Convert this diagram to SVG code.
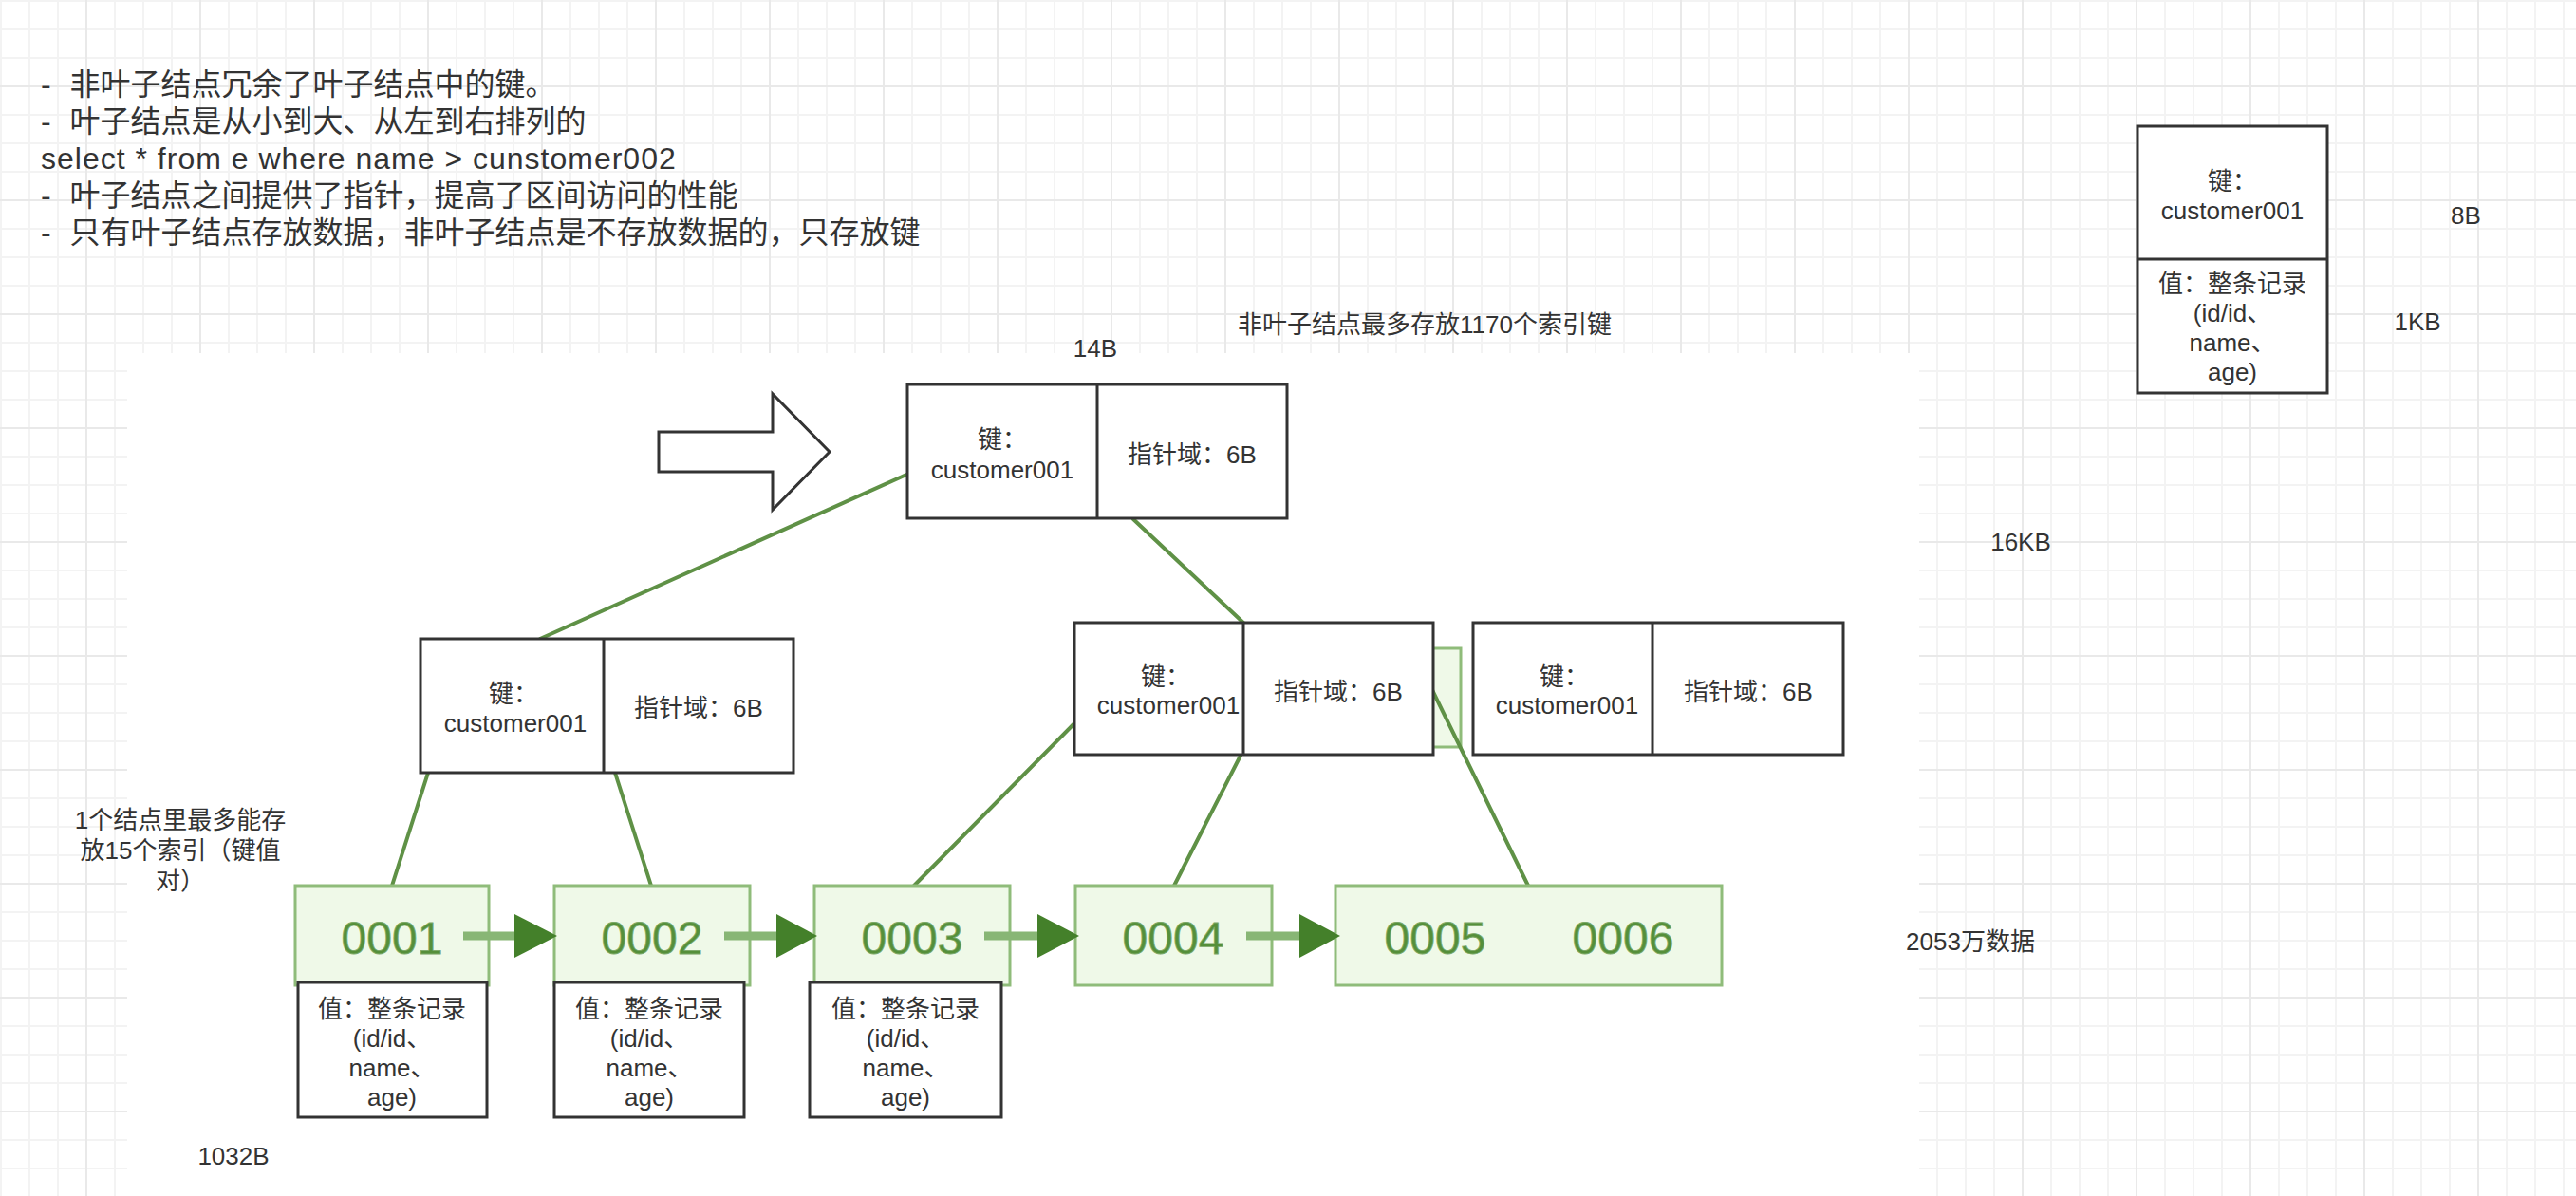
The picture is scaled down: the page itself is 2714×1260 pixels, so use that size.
<svg xmlns="http://www.w3.org/2000/svg" width="2714" height="1260" viewBox="0 0 2714 1260">
<style>
.t{font-family:"Liberation Sans","Noto Sans CJK SC",sans-serif;fill:#333;font-size:26px}
.c{text-anchor:middle}
.big{font-size:32px}
.box{fill:#fff;stroke:#333;stroke-width:3}
.leaf{fill:#eff9e8;stroke:#8fbc7a;stroke-width:3}
.lt{font-family:"Liberation Sans",sans-serif;font-size:48px;fill:#558f3a;stroke:#7aa866;stroke-width:0.8;text-anchor:middle}
.edge{stroke:#5f9146;stroke-width:4;fill:none;stroke-linecap:round}
.shaft{stroke:#88b675;stroke-width:9}
.head{fill:#44802a}
</style>
<defs>
<pattern id="grid" x="90" y="90" width="120" height="120" patternUnits="userSpaceOnUse">
<rect width="120" height="120" fill="#fff"/>
<rect x="30" y="0" width="2" height="120" fill="#f3f3f3"/>
<rect x="60" y="0" width="2" height="120" fill="#f3f3f3"/>
<rect x="90" y="0" width="2" height="120" fill="#f3f3f3"/>
<rect x="0" y="30" width="120" height="2" fill="#f3f3f3"/>
<rect x="0" y="60" width="120" height="2" fill="#f3f3f3"/>
<rect x="0" y="90" width="120" height="2" fill="#f3f3f3"/>
<rect x="0" y="0" width="2" height="120" fill="#e9e9e9"/>
<rect x="0" y="0" width="120" height="2" fill="#e9e9e9"/>
</pattern>
</defs>
<rect width="2714" height="1260" fill="url(#grid)"/>
<rect x="134" y="372" width="1888" height="888" fill="#fff"/>

<g id="notes">
<text class="t big" x="43" y="100" word-spacing="11">- 非叶子结点冗余了叶子结点中的键。</text>
<text class="t big" x="43" y="139" word-spacing="11">- 叶子结点是从小到大、从左到右排列的</text>
<text class="t big" x="43" y="178" letter-spacing="1">select * from e where name &gt; cunstomer002</text>
<text class="t big" x="43" y="217" word-spacing="11">- 叶子结点之间提供了指针，提高了区间访问的性能</text>
<text class="t big" x="43" y="256" word-spacing="11">- 只有叶子结点存放数据，非叶子结点是不存放数据的，只存放键</text>
</g>

<g id="record-node">
<rect class="box" x="2252" y="133" width="200" height="281"/>
<line x1="2252" y1="273" x2="2452" y2="273" stroke="#333" stroke-width="3"/>
<text class="t c" x="2352" y="200">键：</text>
<text class="t c" x="2352" y="231">customer001</text>
<text class="t c" x="2352" y="308">值：整条记录</text>
<text class="t c" x="2352" y="339">(id/id、</text>
<text class="t c" x="2352" y="370">name、</text>
<text class="t c" x="2352" y="401">age)</text>
</g>
<g id="label-8B"><text class="t c" x="2598" y="236">8B</text></g>
<g id="label-1KB"><text class="t c" x="2547" y="348">1KB</text></g>
<g id="label-16KB"><text class="t c" x="2129" y="580">16KB</text></g>
<g id="label-14B"><text class="t c" x="1154" y="376">14B</text></g>
<g id="label-1170"><text class="t c" x="1501" y="351">非叶子结点最多存放1170个索引键</text></g>
<g id="label-15"><text class="t c" x="190" y="873">1个结点里最多能存</text><text class="t c" x="190" y="905">放15个索引（键值</text><text class="t c" x="190" y="937">对）</text></g>
<g id="label-2053"><text class="t c" x="2076" y="1001">2053万数据</text></g>
<g id="label-1032B"><text class="t c" x="246" y="1227">1032B</text></g>

<g id="hidden-leaf"><rect class="leaf" x="1440" y="683" width="99" height="104"/></g>

<g id="connectors">
<line class="edge" x1="955" y1="500" x2="569" y2="673"/>
<line class="edge" x1="1194" y1="547" x2="1310" y2="656"/>
<line class="edge" x1="451" y1="814" x2="413" y2="933"/>
<line class="edge" x1="648" y1="814" x2="686" y2="933"/>
<line class="edge" x1="1131" y1="763" x2="963" y2="933"/>
<line class="edge" x1="1307" y1="796" x2="1237" y2="933"/>
<line class="edge" x1="1509" y1="727" x2="1610" y2="933"/>
</g>

<g id="root-arrow">
<polygon points="694,455 814,455 814,415 874,476 814,537 814,497 694,497" fill="#fff" stroke="#333" stroke-width="3"/>
</g>

<g id="root-node">
<rect class="box" x="956" y="405" width="400" height="141"/>
<line x1="1156" y1="405" x2="1156" y2="546" stroke="#333" stroke-width="3"/>
<text class="t c" x="1056" y="472">键：</text>
<text class="t c" x="1056" y="504">customer001</text>
<text class="t c" x="1256" y="488">指针域：6B</text>
</g>

<g id="mid-left">
<rect class="box" x="443" y="673" width="393" height="141"/>
<line x1="636" y1="673" x2="636" y2="814" stroke="#333" stroke-width="3"/>
<text class="t c" x="541" y="740">键：</text>
<text class="t c" x="543" y="771">customer001</text>
<text class="t c" x="736" y="755">指针域：6B</text>
</g>

<g id="mid-right1">
<rect class="box" x="1132" y="656" width="378" height="139"/>
<line x1="1310" y1="656" x2="1310" y2="795" stroke="#333" stroke-width="3"/>
<text class="t c" x="1228" y="722">键：</text>
<text class="t c" x="1231" y="752">customer001</text>
<text class="t c" x="1410" y="738">指针域：6B</text>
</g>

<g id="mid-right2">
<rect class="box" x="1552" y="656" width="390" height="139"/>
<line x1="1741" y1="656" x2="1741" y2="795" stroke="#333" stroke-width="3"/>
<text class="t c" x="1648" y="722">键：</text>
<text class="t c" x="1651" y="752">customer001</text>
<text class="t c" x="1842" y="738">指针域：6B</text>
</g>

<g id="leaf-0001"><rect class="leaf" x="311" y="933" width="204" height="105"/><text class="lt" x="413" y="1005">0001</text></g>
<g id="leaf-0002"><rect class="leaf" x="584" y="933" width="206" height="105"/><text class="lt" x="687" y="1005">0002</text></g>
<g id="leaf-0003"><rect class="leaf" x="858" y="933" width="206" height="105"/><text class="lt" x="961" y="1005">0003</text></g>
<g id="leaf-0004"><rect class="leaf" x="1133" y="933" width="207" height="105"/><text class="lt" x="1236" y="1005">0004</text></g>
<g id="leaf-0005"><rect class="leaf" x="1407" y="933" width="407" height="105"/><text class="lt" x="1512" y="1005">0005</text><text class="lt" x="1710" y="1005">0006</text></g>

<g id="leaf-links">
<line class="shaft" x1="488" y1="986" x2="545" y2="986"/><polygon class="head" points="542,963 587,986 542,1009"/>
<line class="shaft" x1="763" y1="986" x2="821" y2="986"/><polygon class="head" points="818,963 861,986 818,1009"/>
<line class="shaft" x1="1037" y1="986" x2="1096" y2="986"/><polygon class="head" points="1093,963 1137,986 1093,1009"/>
<line class="shaft" x1="1313" y1="986" x2="1372" y2="986"/><polygon class="head" points="1369,963 1412,986 1369,1009"/>
</g>

<g id="value-1">
<rect class="box" x="314" y="1035" width="199" height="142"/>
<text class="t c" x="413" y="1072">值：整条记录</text>
<text class="t c" x="413" y="1103">(id/id、</text>
<text class="t c" x="413" y="1134">name、</text>
<text class="t c" x="413" y="1165">age)</text>
</g>
<g id="value-2">
<rect class="box" x="584" y="1035" width="200" height="142"/>
<text class="t c" x="684" y="1072">值：整条记录</text>
<text class="t c" x="684" y="1103">(id/id、</text>
<text class="t c" x="684" y="1134">name、</text>
<text class="t c" x="684" y="1165">age)</text>
</g>
<g id="value-3">
<rect class="box" x="853" y="1035" width="202" height="142"/>
<text class="t c" x="954" y="1072">值：整条记录</text>
<text class="t c" x="954" y="1103">(id/id、</text>
<text class="t c" x="954" y="1134">name、</text>
<text class="t c" x="954" y="1165">age)</text>
</g>
</svg>
